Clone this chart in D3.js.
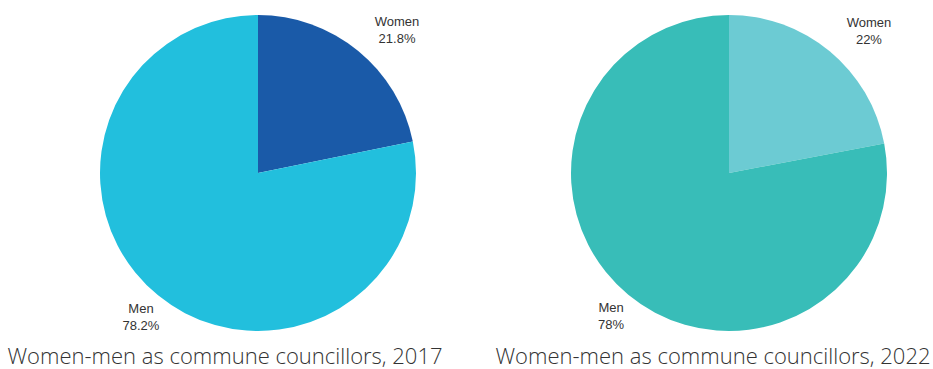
<!DOCTYPE html>
<html>
<head>
<meta charset="utf-8">
<script src="https://cdn.jsdelivr.net/npm/d3@7"></script>
<style>
  body { margin: 0; background: #fff; }
  svg { display: block; }
</style>
</head>
<body>
<div id="chart"></div>
<script>
// data
const categories = ["Women", "Men"];
const values2017 = [21.8, 78.2];
const values2022 = [22, 78];
const titles = ["Women-men as commune councillors, 2017", "Women-men as commune councillors, 2022"];
const colors2017 = ["#1a5aa8", "#22bfdd"];
const colors2022 = ["#6ccbd3", "#38bdb8"];

const width = 933;
const height = 369;
const radius = 158;
const labelRadius = 185;

const svg = d3.select('#chart').append('svg')
    .attr('width', width)
    .attr('height', height);

const pie = d3.pie().sort(null).value(d => d);
const arc = d3.arc().innerRadius(0).outerRadius(radius);

const drawPie = function (cx, values, colors, title, titleX) {
    const g = svg.append('g').attr('transform', `translate(${cx},173)`);
    const arcs = pie(values);

    g.selectAll('path')
        .data(arcs)
        .enter().append('path')
        .attr('d', arc)
        .attr('fill', (d, i) => colors[i]);

    const labels = g.selectAll('text.lbl')
        .data(arcs)
        .enter().append('text')
        .attr('class', 'lbl')
        .attr('text-anchor', 'middle')
        .style('font-family', '"Liberation Sans", Arial, sans-serif')
        .style('font-size', '13px')
        .style('fill', '#333')
        .attr('transform', d => {
            const a = (d.startAngle + d.endAngle) / 2;
            let x = Math.sin(a) * labelRadius;
            const y = -Math.cos(a) * labelRadius;
            if (x > 0) x += 22; // nudge right-hand labels outwards
            return `translate(${x},${y})`;
        });
    labels.append('tspan').attr('x', 0).attr('dy', '-0.25em').text((d, i) => categories[i]);
    labels.append('tspan').attr('x', 0).attr('dy', '1.3em').text(d => d.data + '%');

    svg.append('text')
        .attr('x', titleX)
        .attr('y', 364)
        .attr('text-anchor', 'middle')
        .style('font-family', '"Open Sans", sans-serif')
        .style('font-weight', 300)
        .style('font-size', '22px')
        .style('fill', '#333')
        .text(title);
};

drawPie(258, values2017, colors2017, titles[0], 225);
drawPie(729, values2022, colors2022, titles[1], 713);
</script>
</body>
</html>
